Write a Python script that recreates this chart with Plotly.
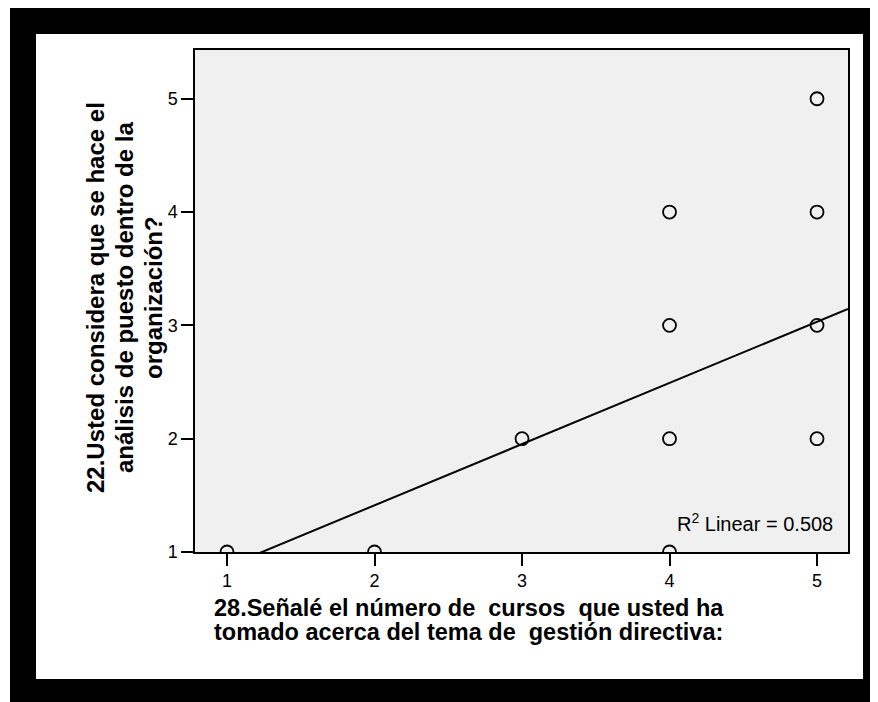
import plotly.graph_objects as go

# Data
x_vals = [1, 2, 3, 4, 4, 4, 4, 5, 5, 5, 5]
y_vals = [1, 1, 2, 1, 2, 3, 4, 2, 3, 4, 5]
fit_intercept = 0.332
fit_slope = 0.540
r2_text = "R<sup>2</sup> Linear = 0.508"
tick_vals = [1, 2, 3, 4, 5]
tick_text = ["1", "2", "3", "4", "5"]
x_title_lines = ["28.Señalé el número de\u00a0 cursos\u00a0 que usted ha",
                 "tomado acerca del tema de\u00a0 gestión directiva:"]
y_title_lines = ["22.Usted considera que se hace el",
                 "análisis de puesto dentro de la",
                 "organización?"]

OFF = 8  # page body margin
W, H = 878 - OFF, 702 - OFF
L, R, T, B = 195 - OFF, 30, 50 - OFF, 150
PW, PH = W - L - R, H - T - B

def px(xs):
    return (xs - OFF - L) / PW

def py(ys):
    return (H - B - (ys - OFF)) / PH

x_range = [0.783, 5.21]
y_range = [1.0, 5.43]

fig = go.Figure()
fig.add_trace(go.Scatter(
    x=x_vals, y=y_vals, mode="markers",
    marker=dict(symbol="circle-open", size=13, color="black",
                line=dict(width=1.8, color="black")),
    showlegend=False, hoverinfo="x+y"))

fit_x = [x_range[0], x_range[1]]
fit_y = [fit_intercept + fit_slope * v for v in fit_x]
fig.add_trace(go.Scatter(x=fit_x, y=fit_y, mode="lines",
                         line=dict(color="black", width=2),
                         showlegend=False, hoverinfo="skip"))

font_tick = dict(family="Liberation Sans, Arial, sans-serif", size=18, color="black")
axis_common = dict(showline=True, mirror=True, linecolor="black", linewidth=1.5,
                   ticks="outside", ticklen=12, tickwidth=1.5, tickcolor="black",
                   showgrid=False, zeroline=False, tickfont=font_tick,
                   tickmode="array", tickvals=tick_vals, ticktext=tick_text)

shapes = []
for (x0, y0, x1, y1) in [(10, 7, 900, 34), (10, 7, 36, 720), (863, 7, 900, 720), (10, 679, 900, 720)]:
    shapes.append(dict(type="rect", xref="paper", yref="paper",
                       x0=px(x0), x1=px(x1), y0=py(y1), y1=py(y0),
                       fillcolor="black", line=dict(width=0), layer="above"))

title_font_x = dict(family="Liberation Sans, Arial, sans-serif", size=23.5, color="black")
title_font_y = dict(family="Liberation Sans, Arial, sans-serif", size=24, color="black")
annotations = []
for txt, yc in zip(x_title_lines, [608, 632]):
    annotations.append(dict(text="<b>%s</b>" % txt, xref="paper", yref="paper",
                            x=px(468.5), y=py(yc), xanchor="center", yanchor="middle",
                            showarrow=False, font=title_font_x))
for txt, xc in zip(y_title_lines, [95, 124, 153]):
    annotations.append(dict(text="<b>%s</b>" % txt, xref="paper", yref="paper",
                            x=px(xc), y=py(298), xanchor="center", yanchor="middle",
                            textangle=-90, showarrow=False, font=title_font_y))
annotations.append(dict(text=r2_text, xref="paper", yref="paper",
                        x=px(835), y=py(522), xanchor="right", yanchor="middle",
                        showarrow=False,
                        font=dict(family="Liberation Sans, Arial, sans-serif", size=20, color="black")))

fig.update_layout(width=W, height=H, margin=dict(l=L, r=R, t=T, b=B),
                  paper_bgcolor="white", plot_bgcolor="#F0F0F0",
                  xaxis=dict(range=x_range, **axis_common),
                  yaxis=dict(range=y_range, **axis_common),
                  shapes=shapes, annotations=annotations, showlegend=False)

fig.write_html("out.html")
